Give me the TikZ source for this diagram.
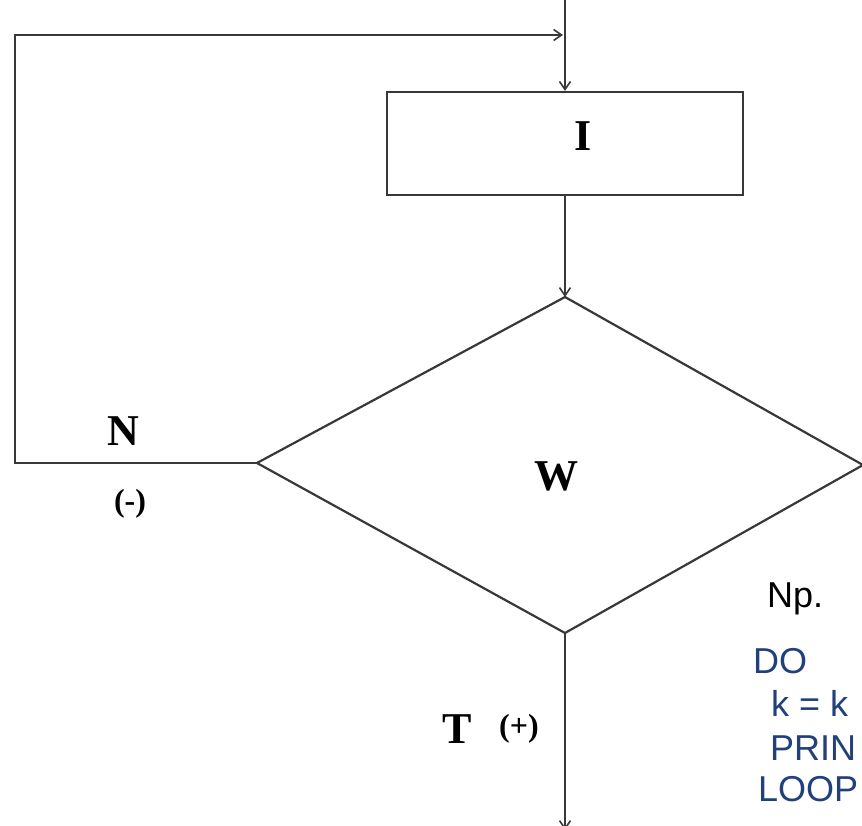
\documentclass[tikz,border=0pt]{standalone}
\usepackage{fontspec}
\setmainfont{Liberation Serif}
\setsansfont{Liberation Sans}
\usetikzlibrary{arrows.meta}
\definecolor{lin}{HTML}{383838}
\definecolor{bluetxt}{HTML}{22407A}
\begin{document}
\begin{tikzpicture}[x=1pt,y=-1pt,
  conn/.style={draw=lin,line width=2.2pt},
  arr/.style={conn,-{Straight Barb[length=8pt,width=11pt,line width=1.6pt]}},
  lbl/.style={font=\fontsize{44}{44}\selectfont\bfseries,inner sep=0pt},
  small/.style={font=\fontsize{32}{32}\selectfont\bfseries,inner sep=0pt},
  sans/.style={font=\sffamily\fontsize{36}{38}\selectfont,inner sep=0pt,anchor=base west},
]
\useasboundingbox (0,0) rectangle (862,826);
\clip (0,0) rectangle (862,826);
\coordinate (top) at (565,0);
\node[draw=lin,line width=2.2pt,minimum width=356pt,minimum height=103pt,inner sep=0pt] (box) at (565,143.5) {};
\node[lbl] (I) at (583,136) {I};
\coordinate (dt) at (565,297);
\coordinate (dl) at (257,463);
\coordinate (dr) at (863,465);
\coordinate (db) at (565,633);
\draw[conn,line join=miter] (dt) -- (dr) -- (db) -- (dl) -- cycle;
\node[lbl] (W) at (556,476) {W};
\coordinate (lc1) at (15,463);
\coordinate (lc2) at (15,35);
\coordinate (lc3) at (565,35);
\coordinate (bot) at (565,826);
\draw[arr] (top) -- (box.north);
\draw[arr] (box.south) -- (dt);
\draw[arr] (dl) -- (lc1) -- (lc2) -- ([xshift=-2pt]lc3);
\draw[arr] (db) -- ([yshift=-4pt]bot);
\node[lbl] (N) at (123,431) {N};
\node[small] (minus) at (130,504) {(-)};
\node[lbl] (T) at (457,729) {T};
\node[small] (plus) at (519,729) {(+)};
\node[sans] (Np) at (767,607) {Np.};
\node[sans,text=bluetxt] (do) at (753,673) {DO};
\node[sans,text=bluetxt] (kk) at (771,716) {k = k};
\node[sans,text=bluetxt] (pr) at (770,760) {PRIN};
\node[sans,text=bluetxt] (lp) at (758,801) {LOOP};
\end{tikzpicture}
\end{document}
